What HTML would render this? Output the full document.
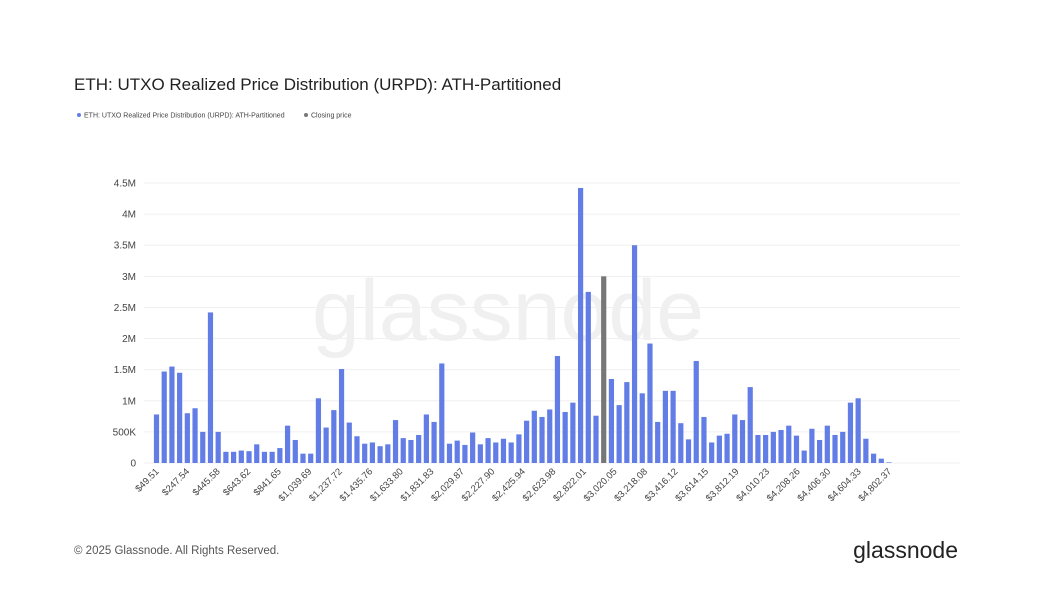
<!DOCTYPE html>
<html><head><meta charset="utf-8"><style>
body{margin:0;background:#fff;font-family:"Liberation Sans",sans-serif;}
svg{display:block}
</style></head><body>
<svg width="1057" height="596" viewBox="0 0 1057 596">
<text x="74" y="90" font-size="17" fill="#222">ETH: UTXO Realized Price Distribution (URPD): ATH-Partitioned</text>
<g>
<g><circle cx="79" cy="115" r="2" fill="#627de6"/><text x="84" y="117.5" font-size="7" fill="#444">ETH: UTXO Realized Price Distribution (URPD): ATH-Partitioned</text></g>
<g><circle cx="306" cy="115" r="2" fill="#777"/><text x="311" y="117.5" font-size="7" fill="#444">Closing price</text></g>
</g>
<text x="508" y="340" font-size="86" fill="#000" fill-opacity="0.06" text-anchor="middle">glassnode</text>
<g id="grid"></g>
<g id="yax"></g>
<g id="bars"></g>
<g id="xax"></g>
<text x="74" y="554" font-size="11.5" fill="#555">© 2025 Glassnode. All Rights Reserved.</text>
<text x="958" y="558" font-size="23" fill="#222" text-anchor="end">glassnode</text>
</svg>
<script>
const values=[0.78,1.47,1.55,1.45,0.8,0.88,0.5,2.42,0.5,0.18,0.18,0.2,0.19,0.3,0.18,0.18,0.24,0.6,0.37,0.15,0.15,1.04,0.57,0.85,1.51,0.65,0.43,0.31,0.33,0.27,0.3,0.69,0.4,0.37,0.45,0.78,0.66,1.6,0.31,0.36,0.29,0.49,0.3,0.4,0.33,0.39,0.33,0.46,0.68,0.84,0.74,0.86,1.72,0.82,0.97,4.42,2.75,0.76,0,1.35,0.93,1.3,3.5,1.12,1.92,0.66,1.16,1.16,0.64,0.38,1.64,0.74,0.33,0.44,0.47,0.78,0.69,1.22,0.45,0.45,0.5,0.53,0.6,0.44,0.2,0.55,0.37,0.6,0.45,0.5,0.97,1.04,0.39,0.15,0.07,0.01];
const closingIndex=58;
const closingValue=3.0;
const yTicks=[0,0.5,1,1.5,2,2.5,3,3.5,4,4.5];
const yTickLabels=["0","500K","1M","1.5M","2M","2.5M","3M","3.5M","4M","4.5M"];
const xTickLabels=["$49.51","$247.54","$445.58","$643.62","$841.65","$1,039.69","$1,237.72","$1,435.76","$1,633.80","$1,831.83","$2,029.87","$2,227.90","$2,425.94","$2,623.98","$2,822.01","$3,020.05","$3,218.08","$3,416.12","$3,614.15","$3,812.19","$4,010.23","$4,208.26","$4,406.30","$4,604.33","$4,802.37"];
const NS="http://www.w3.org/2000/svg";
const y0=463,y1=183,vmax=4.5;
const ys=v=>y0-(v/vmax)*(y0-y1);
const xs=i=>156.5+i*(889-156.5)/(values.length-1);
function mk(tag,attrs,parent){const e=document.createElementNS(NS,tag);for(const k in attrs)e.setAttribute(k,attrs[k]);parent.appendChild(e);return e;}
const grid=document.getElementById('grid'),yax=document.getElementById('yax'),bars=document.getElementById('bars'),xax=document.getElementById('xax');
yTicks.forEach((t,i)=>{
  const l=mk('line',{x1:144,x2:960,y1:ys(t),y2:ys(t),stroke:'#f0f0f0','stroke-width':1},grid);
  
  
  const tx=mk('text',{x:136,y:ys(t)+3.5,'font-size':10,fill:'#444','text-anchor':'end'},yax);
  tx.textContent=yTickLabels[i];
  
  
});
values.forEach((v,i)=>{
  if(i===closingIndex)return;
  const r=mk('rect',{x:xs(i)-2.6,y:ys(v),width:5.2,height:y0-ys(v),fill:'#627de6'},bars);
  
  
});
const cb=mk('rect',{x:xs(closingIndex)-2.6,y:ys(closingValue),width:5.2,height:y0-ys(closingValue),fill:'#777'},bars);


xTickLabels.forEach((s,i)=>{
  const x=xs(0)+i*(xs(values.length-1)-xs(0))/(xTickLabels.length-1);
  const t=mk('text',{x:x+3,y:472,'font-size':9.5,fill:'#444','text-anchor':'end',transform:`rotate(-45 ${x+3} 472)`},xax);
  t.textContent=s;
  
  
});
</script>
</body></html>
